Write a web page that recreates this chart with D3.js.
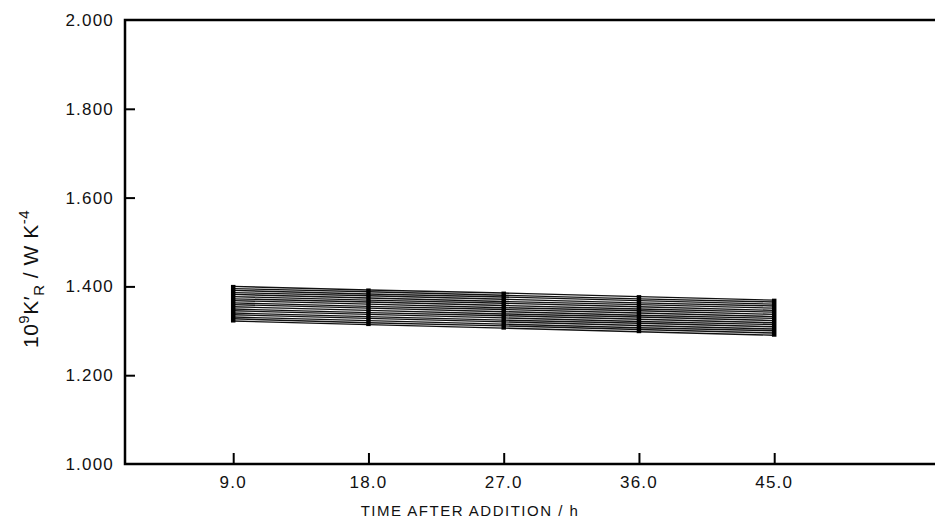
<!DOCTYPE html>
<html>
<head>
<meta charset="utf-8">
<script src="https://cdn.jsdelivr.net/npm/d3@7"></script>
<style>
  body { margin: 0; background: #fff; }
  svg text { font-family: "Liberation Sans", Arial, sans-serif; fill: #111; }
</style>
</head>
<body>
<div id="chart"></div>
<script>
// Data
var times = [9.0, 18.0, 27.0, 36.0, 45.0];
var xTicks = [9.0, 18.0, 27.0, 36.0, 45.0];
var yTicks = [1.0, 1.2, 1.4, 1.6, 1.8, 2.0];
var s1  = [1.400, 1.392, 1.385, 1.377, 1.369];
var s2  = [1.395, 1.388, 1.380, 1.372, 1.365];
var s3  = [1.391, 1.383, 1.376, 1.368, 1.360];
var s4  = [1.386, 1.379, 1.371, 1.363, 1.356];
var s5  = [1.382, 1.374, 1.366, 1.359, 1.351];
var s6  = [1.377, 1.369, 1.362, 1.354, 1.346];
var s7  = [1.372, 1.365, 1.357, 1.349, 1.342];
var s8  = [1.368, 1.360, 1.352, 1.345, 1.337];
var s9  = [1.363, 1.355, 1.348, 1.340, 1.332];
var s10 = [1.359, 1.351, 1.343, 1.335, 1.328];
var s11 = [1.354, 1.346, 1.338, 1.331, 1.323];
var s12 = [1.349, 1.341, 1.334, 1.326, 1.318];
var s13 = [1.345, 1.337, 1.329, 1.321, 1.314];
var s14 = [1.340, 1.332, 1.324, 1.317, 1.309];
var s15 = [1.336, 1.328, 1.320, 1.312, 1.304];
var s16 = [1.331, 1.323, 1.315, 1.307, 1.300];
var s17 = [1.327, 1.318, 1.311, 1.303, 1.295];
var s18 = [1.322, 1.314, 1.306, 1.298, 1.290];
var series = [s1, s2, s3, s4, s5, s6, s7, s8, s9, s10, s11, s12, s13, s14, s15, s16, s17, s18];

// Chart size
var width = 935;
var height = 524;
var plotLeft = 125, plotRight = 935, plotTop = 20, plotBottom = 464;

var xScale = d3.scaleLinear()
               .domain([1.8, 55.7])
               .range([plotLeft, plotRight]);
var yScale = d3.scaleLinear()
               .domain([1, 2])
               .range([plotBottom, plotTop]);

var chart = d3.select('#chart')
              .append('svg')
              .attr('width', width)
              .attr('height', height);

// Lines
var line = d3.line()
             .x(function(d, i) { return xScale(times[i]); })
             .y(function(d) { return yScale(d); });

chart.append('g')
     .selectAll('path')
     .data(series)
     .enter()
     .append('path')
     .attr('d', line)
     .attr('fill', 'none')
     .attr('stroke', '#111')
     .attr('stroke-width', 1.4);

// Range bars at each time
var bars = times.map(function(t, i) {
  var vals = series.map(function(s) { return s[i]; });
  return [t, d3.min(vals), d3.max(vals)];
});
chart.append('g')
     .selectAll('line')
     .data(bars)
     .enter()
     .append('line')
     .attr('x1', function(d) { return xScale(d[0]); })
     .attr('x2', function(d) { return xScale(d[0]); })
     .attr('y1', function(d) { return yScale(d[1]) + 1.5; })
     .attr('y2', function(d) { return yScale(d[2]) - 1.5; })
     .attr('stroke', '#000')
     .attr('stroke-width', 4.5);

// Y-Axis (ticks inward)
var yAxis = d3.axisRight(yScale)
              .tickValues(yTicks.filter(function(v) { return v > 1 && v < 2; }))
              .tickSize(10)
              .tickFormat('');
var yg = chart.append('g')
              .attr('transform', 'translate(' + plotLeft + ',0)')
              .call(yAxis);
yg.select('.domain').remove();
yg.selectAll('.tick line').attr('stroke', '#000').attr('stroke-width', 2);

chart.append('g')
     .selectAll('text')
     .data(yTicks)
     .enter()
     .append('text')
     .attr('x', plotLeft - 11)
     .attr('y', function(d) { return yScale(d) + 6; })
     .attr('text-anchor', 'end')
     .style('font-size', '17px')
     .style('letter-spacing', '1.2px')
     .text(function(d) { return d3.format('.3f')(d); });

// X-Axis (ticks inward)
var xAxis = d3.axisTop(xScale)
              .tickValues(xTicks)
              .tickSize(11)
              .tickFormat('');
var xg = chart.append('g')
              .attr('transform', 'translate(0,' + plotBottom + ')')
              .call(xAxis);
xg.select('.domain').remove();
xg.selectAll('.tick line').attr('stroke', '#000').attr('stroke-width', 2);

chart.append('g')
     .selectAll('text')
     .data(xTicks)
     .enter()
     .append('text')
     .attr('x', function(d) { return xScale(d); })
     .attr('y', 488)
     .attr('text-anchor', 'middle')
     .style('font-size', '17px')
     .style('letter-spacing', '1.2px')
     .text(function(d) { return d3.format('.1f')(d); });

// Frame: left, top, bottom
chart.append('path')
     .attr('d', 'M' + plotRight + ',' + plotTop + 'H' + plotLeft + 'V' + plotBottom + 'H' + plotRight)
     .attr('fill', 'none')
     .attr('stroke', '#000')
     .attr('stroke-width', 2.5);

// Axis titles
chart.append('text')
     .attr('x', 470)
     .attr('y', 516)
     .attr('text-anchor', 'middle')
     .style('font-size', '15px')
     .style('letter-spacing', '1.5px')
     .text('TIME AFTER ADDITION  / h');

var yt = chart.append('text')
              .attr('transform', 'translate(38,279) rotate(-90)')
              .attr('text-anchor', 'middle')
              .style('font-size', '21px')
              .style('letter-spacing', '0.5px');
yt.append('tspan').text('10');
yt.append('tspan').attr('dy', -9).style('font-size', '15px').text('9');
yt.append('tspan').attr('dy', 9).text('K\u2032');
yt.append('tspan').attr('dy', 6).style('font-size', '15px').text('R');
yt.append('tspan').attr('dy', -6).text(' / W K');
yt.append('tspan').attr('dy', -9).style('font-size', '15px').text('-4');
</script>
</body>
</html>
